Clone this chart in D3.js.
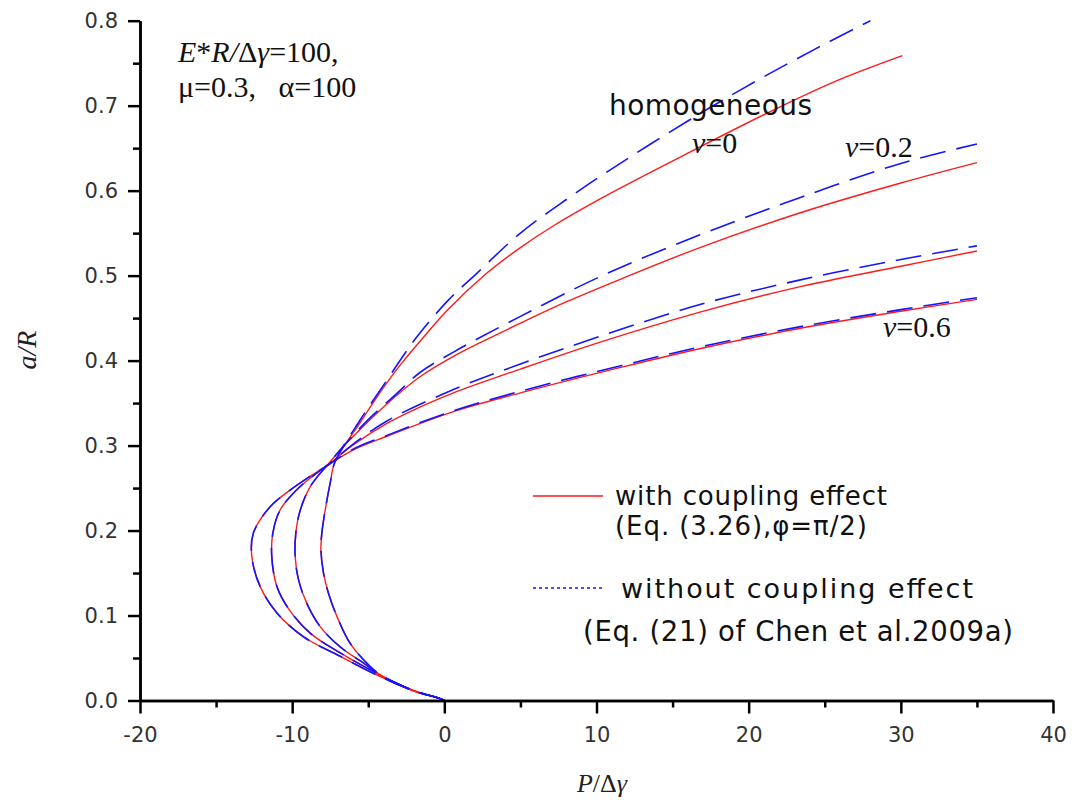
<!DOCTYPE html>
<html>
<head>
<meta charset="utf-8">
<script src="https://cdn.jsdelivr.net/npm/d3@7"></script>
<style>
  html, body { margin: 0; padding: 0; background: #fff; }
  svg { display: block; }
</style>
</head>
<body>
<svg id="chart" width="1074" height="802"></svg>
<script>
// ---- data: [P/Δγ, a/R] ----
const xTicksMajor = [-20, -10, 0, 10, 20, 30, 40];
const xTicksMinor = [-15, -5, 5, 15, 25, 35];
const yTicksMajor = [0, 0.1, 0.2, 0.3, 0.4, 0.5, 0.6, 0.7, 0.8];
const yTicksMinor = [0.05, 0.15, 0.25, 0.35, 0.45, 0.55, 0.65, 0.75];

// with coupling effect (red)
const nu0Coupled = [[0,0],[-0.4,0.003],[-1.8,0.010],[-3.1,0.019],[-3.9,0.026],[-4.87,0.040],[-6.18,0.067],[-7.06,0.099],[-7.61,0.126],[-7.94,0.150],[-8.11,0.177],[-8.05,0.197],[-7.83,0.224],[-7.5,0.256],[-7.2,0.280],[-5.5,0.328],[-3.77,0.374],[-2.8,0.397],[-1.3,0.429],[0.18,0.459],[2.8,0.503],[5,0.533],[7.2,0.559],[10.3,0.591],[16.2,0.646],[22.1,0.699],[26,0.731],[30.1,0.759]];
const nu02Coupled = [[0,0],[-0.4,0.003],[-1.8,0.010],[-3.1,0.020],[-4.2,0.030],[-5.3,0.044],[-6.84,0.063],[-8.16,0.087],[-9.03,0.114],[-9.58,0.142],[-9.8,0.169],[-9.76,0.197],[-9.47,0.224],[-8.8,0.252],[-7.6,0.279],[-6.3,0.305],[-4.8,0.332],[-3.2,0.358],[-1.6,0.381],[0.6,0.405],[2.8,0.425],[5,0.444],[8,0.469],[11.6,0.496],[16.8,0.533],[23.4,0.574],[30,0.609],[35,0.633]];
const nu04Coupled = [[0,0],[-0.4,0.003],[-1.8,0.010],[-3.1,0.020],[-4.65,0.034],[-6.84,0.056],[-8.8,0.079],[-10.2,0.107],[-11.0,0.134],[-11.34,0.169],[-11.27,0.197],[-10.8,0.224],[-9.7,0.248],[-8.5,0.266],[-7.6,0.278],[-5.97,0.301],[-3.77,0.326],[-1.5,0.346],[0.6,0.362],[5,0.390],[10.3,0.422],[16.8,0.457],[23.4,0.487],[30,0.511],[35,0.529]];
const nu06Coupled = [[0,0],[-0.4,0.003],[-1.8,0.0104],[-4.2,0.028],[-6.84,0.052],[-9.26,0.075],[-11.0,0.103],[-12.1,0.134],[-12.65,0.169],[-12.55,0.197],[-11.45,0.228],[-10.1,0.248],[-8.8,0.264],[-7.83,0.275],[-5.97,0.295],[-3.77,0.311],[0.6,0.340],[5,0.362],[11.6,0.392],[17.3,0.416],[23.4,0.438],[30,0.458],[35,0.472]];

// without coupling effect (blue, dashed)
const nu0Plain = [[0,0],[-0.4,0.003],[-1.8,0.010],[-3.1,0.019],[-3.9,0.026],[-4.87,0.040],[-6.18,0.067],[-7.06,0.099],[-7.61,0.126],[-7.94,0.150],[-8.11,0.177],[-8.05,0.197],[-7.83,0.224],[-7.5,0.256],[-7.2,0.280],[-5.5,0.331],[-3.77,0.377],[-2.8,0.403],[-1.8,0.428],[0.2,0.470],[2.15,0.503],[5,0.550],[8.3,0.593],[10.6,0.621],[16,0.682],[19.7,0.721],[24.3,0.766],[28,0.800]];
const nu02Plain = [[0,0],[-0.4,0.003],[-1.8,0.010],[-3.1,0.020],[-4.2,0.030],[-5.3,0.044],[-6.84,0.063],[-8.16,0.087],[-9.03,0.114],[-9.58,0.142],[-9.8,0.169],[-9.76,0.197],[-9.47,0.224],[-8.8,0.252],[-7.6,0.279],[-6.3,0.306],[-4.8,0.334],[-3.2,0.360],[-1.6,0.386],[0.6,0.410],[5,0.452],[10.5,0.501],[16.8,0.548],[23.4,0.592],[30,0.632],[35,0.655]];
const nu04Plain = [[0,0],[-0.4,0.003],[-1.8,0.010],[-3.1,0.020],[-4.65,0.034],[-6.84,0.056],[-8.8,0.079],[-10.2,0.107],[-11.0,0.134],[-11.34,0.169],[-11.27,0.197],[-10.8,0.224],[-9.7,0.248],[-8.5,0.266],[-7.6,0.278],[-5.97,0.302],[-3.77,0.329],[0.6,0.366],[5,0.396],[10.3,0.429],[16.8,0.466],[23.4,0.495],[30,0.519],[35,0.535]];
const nu06Plain = [[0,0],[-0.4,0.003],[-1.8,0.0104],[-4.2,0.028],[-6.84,0.052],[-9.26,0.075],[-11.0,0.103],[-12.1,0.134],[-12.65,0.169],[-12.55,0.197],[-11.45,0.228],[-10.1,0.248],[-8.8,0.264],[-7.83,0.275],[-5.97,0.296],[-3.77,0.312],[0.6,0.341],[5,0.364],[11.6,0.394],[17.3,0.418],[23.4,0.440],[30,0.460],[35,0.474]];

const coupledSeries = [nu0Coupled, nu02Coupled, nu04Coupled, nu06Coupled];
const plainSeries = [nu0Plain, nu02Plain, nu04Plain, nu06Plain];

// ---- layout ----
const svg = d3.select("#chart");
const x = d3.scaleLinear().domain([-20, 40]).range([140, 1053]);
const y = d3.scaleLinear().domain([0, 0.8]).range([700.5, 20.7]);
const SANS = "'DejaVu Sans', Verdana, sans-serif";
const SERIF = "'Liberation Serif', 'Times New Roman', serif";

const line = d3.line().x(d => x(d[0])).y(d => y(d[1])).curve(d3.curveCatmullRom.alpha(0.5));

// curves
const gCurves = svg.append("g");
gCurves.selectAll("path.red").data(coupledSeries).join("path")
  .attr("class", "red").attr("d", line)
  .attr("fill", "none").attr("stroke", "#ff1a1a").attr("stroke-width", 1.4);
gCurves.selectAll("path.blue").data(plainSeries).join("path")
  .attr("class", "blue").attr("d", line)
  .attr("fill", "none").attr("stroke", "#1414ff").attr("stroke-width", 1.6)
  .attr("stroke-dasharray", "26,11");

// axes
function styleAxis(g) {
  g.select(".domain").attr("stroke", "#000").attr("stroke-width", 2.5);
  g.selectAll(".tick line").attr("stroke", "#000").attr("stroke-width", 2.5);
  g.selectAll(".tick text").attr("fill", "#333").style("font-family", SANS).style("font-size", "21px");
}
const xAxis = svg.append("g").attr("transform", `translate(0,${y(0)})`)
  .call(d3.axisBottom(x).tickValues(xTicksMajor).tickSize(13).tickSizeOuter(0).tickPadding(14).tickFormat(d3.format("d")));
styleAxis(xAxis);
const xAxisMinor = svg.append("g").attr("transform", `translate(0,${y(0)})`)
  .call(d3.axisBottom(x).tickValues(xTicksMinor).tickSize(7).tickSizeOuter(0).tickFormat(""));
styleAxis(xAxisMinor);
const yAxis = svg.append("g").attr("transform", `translate(${x(-20)},0)`)
  .call(d3.axisLeft(y).tickValues(yTicksMajor).tickSize(12).tickSizeOuter(0).tickPadding(10).tickFormat(d3.format(".1f")));
styleAxis(yAxis);
const yAxisMinor = svg.append("g").attr("transform", `translate(${x(-20)},0)`)
  .call(d3.axisLeft(y).tickValues(yTicksMinor).tickSize(7).tickSizeOuter(0).tickFormat(""));
styleAxis(yAxisMinor);
xAxis.selectAll(".tick text").text(d => String(d));

// axis titles
const xt = svg.append("text").attr("x", 602).attr("y", 792).attr("text-anchor", "middle")
  .style("font-family", SERIF).style("font-size", "26px").attr("fill", "#222");
xt.append("tspan").style("font-style", "italic").text("P");
xt.append("tspan").text("/Δ");
xt.append("tspan").style("font-style", "italic").text("γ");

const yt = svg.append("text").attr("transform", "translate(36,350) rotate(-90)").attr("text-anchor", "middle")
  .style("font-family", SERIF).style("font-size", "28px").style("font-style", "italic").attr("fill", "#222");
yt.append("tspan").text("a/R");

// parameter annotation
const p1 = svg.append("text").attr("x", 178).attr("y", 62)
  .style("font-family", SERIF).style("font-size", "30px").attr("fill", "#111");
p1.append("tspan").style("font-style", "italic").text("E");
p1.append("tspan").text("*");
p1.append("tspan").style("font-style", "italic").text("R/");
p1.append("tspan").text("Δ");
p1.append("tspan").style("font-style", "italic").text("γ");
p1.append("tspan").text("=100,");
svg.append("text").attr("x", 178).attr("y", 97)
  .style("font-family", SERIF).style("font-size", "30px").attr("fill", "#111")
  .style("white-space", "pre").text("μ=0.3,   α=100");

// curve labels
svg.append("text").attr("x", 609).attr("y", 115)
  .style("font-family", SANS).style("font-size", "28px").attr("fill", "#111")
  .attr("textLength", 203).attr("lengthAdjust", "spacing").text("homogeneous");
function nuLabel(xp, yp, val) {
  const t = svg.append("text").attr("x", xp).attr("y", yp)
    .style("font-family", SERIF).style("font-size", "30px").attr("fill", "#111");
  t.append("tspan").style("font-style", "italic").text("ν");
  t.append("tspan").text("=" + val);
}
nuLabel(692, 153, "0");
nuLabel(845, 157, "0.2");
nuLabel(883, 337, "0.6");

// legend
function legendText(xp, yp, len, str, size) {
  svg.append("text").attr("x", xp).attr("y", yp)
    .style("font-family", SANS).style("font-size", size + "px").attr("fill", "#111")
    .attr("textLength", len).attr("lengthAdjust", "spacing").text(str);
}
svg.append("line").attr("x1", 533).attr("x2", 603).attr("y1", 496).attr("y2", 496)
  .attr("stroke", "#ff1a1a").attr("stroke-width", 1.4);
legendText(615, 505, 272, "with coupling effect", 26);
legendText(615, 535, 252, "(Eq. (3.26),φ=π/2)", 26);
svg.append("line").attr("x1", 533).attr("x2", 603).attr("y1", 588).attr("y2", 588)
  .attr("stroke", "#1414ff").attr("stroke-width", 1.4).attr("stroke-dasharray", "3,3");
legendText(621, 598, 352, "without coupling effect", 27);
legendText(583, 641, 430, "(Eq. (21) of Chen et al.2009a)", 27.5);
</script>
</body>
</html>
